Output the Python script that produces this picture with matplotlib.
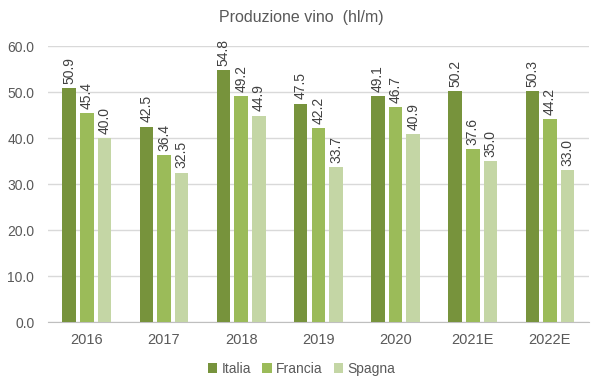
import numpy as np
import matplotlib.pyplot as plt

years = ["2016", "2017", "2018", "2019", "2020", "2021E", "2022E"]
italia = [50.9, 42.5, 54.8, 47.5, 49.1, 50.2, 50.3]
francia = [45.4, 36.4, 49.2, 42.2, 46.7, 37.6, 44.2]
spagna = [40.0, 32.5, 44.9, 33.7, 40.9, 35.0, 33.0]

series = [("Italia", italia, "#77933C"),
          ("Francia", francia, "#9BBB59"),
          ("Spagna", spagna, "#C4D6A5")]

plt.rcParams['font.family'] = ['Liberation Sans', 'DejaVu Sans']

fig = plt.figure(figsize=(6.03, 3.88), dpi=100)
ax = fig.add_axes([0.080, 0.170, 0.896, 0.711])

x = np.arange(len(years))
w = 0.175
pitch = 0.229
for i, (name, vals, col) in enumerate(series):
    pos = x + (i - 1) * pitch
    ax.bar(pos, vals, width=w, color=col, label=name, zorder=3)
    for xp, v in zip(pos, vals):
        ax.annotate(f"{v:.1f}", (xp, v), xytext=(0, 3), textcoords="offset points",
                    rotation=90, ha="center", va="bottom", fontsize=10, color="#404040")

ax.set_xlim(-0.5, len(years) - 0.5)
ax.set_ylim(0, 60)
ax.set_yticks(np.arange(0, 61, 10))
ax.set_yticklabels([f"{t:.1f}" for t in np.arange(0, 61, 10)], fontsize=10, color="#595959")
ax.set_xticks(x)
ax.set_xticklabels(years, fontsize=10.5, color="#595959")
ax.tick_params(length=0, pad=8)
ax.tick_params(axis="y", pad=10)
ax.grid(axis="y", color="#D9D9D9", linewidth=1, zorder=0)
for s in ["top", "right", "left"]:
    ax.spines[s].set_visible(False)
ax.spines["bottom"].set_color("#BFBFBF")

fig.text(0.50, 0.955, "Produzione vino  (hl/m)", ha="center", va="center",
         fontsize=11.5, color="#595959")

leg = fig.legend(loc="center", bbox_to_anchor=(0.50, 0.05), ncol=3, frameon=False,
                 handlelength=0.7, handleheight=0.7, handletextpad=0.3, columnspacing=0.8,
                 fontsize=10)
for t in leg.get_texts():
    t.set_color("#595959")

plt.savefig("out.png", dpi=100)
